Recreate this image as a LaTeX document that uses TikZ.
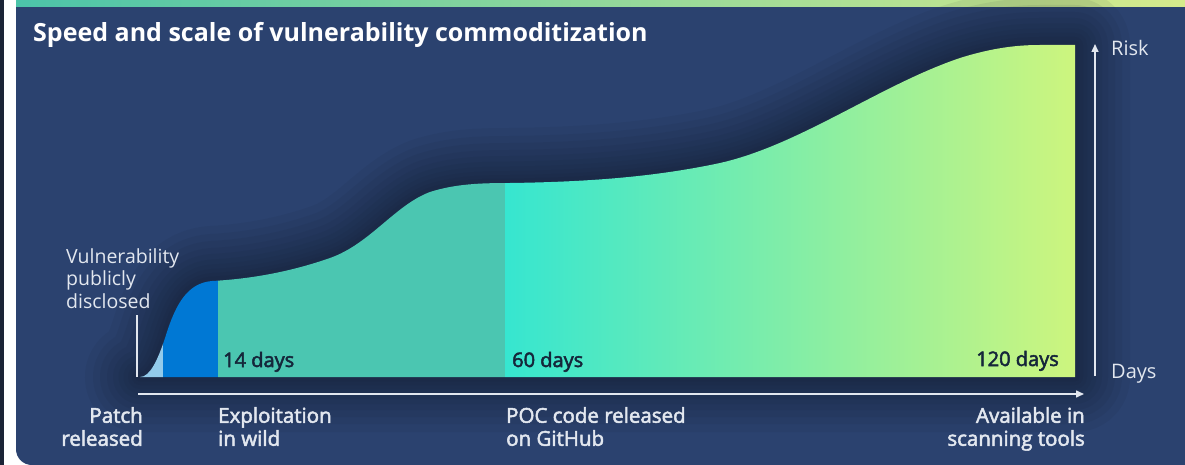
\documentclass[tikz,border=0pt]{standalone}
\usepackage{fontspec}
\setmainfont{Open Sans}
\newfontfamily\semifont{Open Sans}[FakeBold=2.5]
\usetikzlibrary{arrows.meta}
\usetikzlibrary{positioning}
\definecolor{panelbg}{HTML}{2B426F}
\definecolor{edgedark}{HTML}{1B2436}
\definecolor{glowdark}{HTML}{121A2B}
\definecolor{barteal}{HTML}{4CC4A9}
\definecolor{barlime}{HTML}{D6EB8C}
\definecolor{lightband}{HTML}{93CBEB}
\definecolor{blueband}{HTML}{0078D4}
\definecolor{tealband}{HTML}{4BC6B1}
\definecolor{cyanband}{HTML}{36E6D0}
\definecolor{limeband}{HTML}{CDF57E}
\definecolor{softwhite}{HTML}{E2E7EF}
\definecolor{daynavy}{HTML}{15263A}
\newcommand{\riskpath}{(140,377) .. controls (150,377) and (158,360) .. (166,335)
  .. controls (176,303) and (188,283) .. (212,281)
  .. controls (250,279) and (290,272) .. (330,258)
  .. controls (370,244) and (395,205) .. (430,192)
  .. controls (455,184) and (480,183) .. (510,183)
  .. controls (580,182) and (650,178) .. (720,163)
  .. controls (800,145) and (880,85) .. (960,58)
  .. controls (995,47) and (1020,45) .. (1040,45)
  -- (1075,45) -- (1075,377) -- cycle}
\tikzset{
    glowline/.style={draw=glowdark, line join=round},
    axisline/.style={draw=softwhite, line width=1.5pt},
    axisarrow/.style={axisline, -{Triangle[width=7pt,length=8pt]}},
    titletext/.style={text=white, font=\fontsize{25}{29}\selectfont\bfseries, inner sep=0pt},
    notetext/.style={text=softwhite, font=\fontsize{19.5}{22.5}\selectfont, inner sep=0pt, align=left},
    stagetext/.style={text=softwhite, font=\fontsize{20.5}{23}\selectfont\semifont, inner sep=0pt},
    axistext/.style={text=softwhite, font=\fontsize{20}{23}\selectfont, inner sep=0pt},
    daytext/.style={text=daynavy, font=\fontsize{20}{23}\selectfont\semifont, inner sep=0pt},
}

\begin{document}
\begin{tikzpicture}[x=1pt, y=-1pt]
\useasboundingbox (0,0) rectangle (1185,465);
% panel
\fill[white] (0,0) rectangle (1185,465);
\fill[edgedark] (0,0) rectangle (4,465);
\fill[panelbg] (16,0) -- (1185,0) -- (1185,465) -- (32,465)
  .. controls (23,465) and (16,458) .. (16,449) -- cycle;
\shade[left color=barteal, right color=barlime] (16,0) rectangle (1185,7);
% shadow round the curve
\foreach \w in {110,94,80,66,54,43,33,24,16,9}
  \draw[glowline, line width=\w, draw opacity=0.07] \riskpath;
% risk curve
\begin{scope}
\clip \riskpath;
\fill[lightband] (140,0) rectangle (163,400);
\fill[blueband] (163,0) rectangle (218,400);
\fill[tealband] (218,0) rectangle (505,400);
\shade[left color=cyanband, right color=limeband] (505,0) rectangle (1075,400);
\end{scope}
% axes
\coordinate (daysstart) at (138,394);
\coordinate (daysend) at (1084,394);
\coordinate (riskbottom) at (1095,376);
\coordinate (risktop) at (1095,44);
\coordinate (tickbottom) at (137,377);
\coordinate (ticktop) at (137,315);
\draw[axisarrow] (daysstart) -- (daysend);
\draw[axisarrow] (riskbottom) -- (risktop);
\draw[draw=softwhite, line width=1.2pt] (tickbottom) -- (ticktop);
% texts
\node[titletext, anchor=base west] (title) at (33,42) {Speed and scale of vulnerability commoditization};
\node[notetext, anchor=north west] (disclosed) at (66,248) {Vulnerability\\publicly\\disclosed};
\node[daytext, anchor=base west] (day14) at (223,367) {14 days};
\node[daytext, anchor=base west] (day60) at (512,367) {60 days};
\node[daytext, anchor=base east] (day120) at (1059,366) {120 days};
\node[axistext, anchor=base west] (risk) at (1111,56) {Risk};
\node[axistext, anchor=base west] (days) at (1111,378) {Days};
\node[stagetext, anchor=north east, align=right] (patch) at (143,407) {Patch\\released};
\node[stagetext, anchor=north west, align=left] (exploit) at (218,407) {Exploitation\\in wild};
\node[stagetext, anchor=north west, align=left] (poc) at (506,407) {POC code released\\on GitHub};
\node[stagetext, anchor=north east, align=right] (scanning) at (1085,407) {Available in\\scanning tools};
\end{tikzpicture}
\end{document}
